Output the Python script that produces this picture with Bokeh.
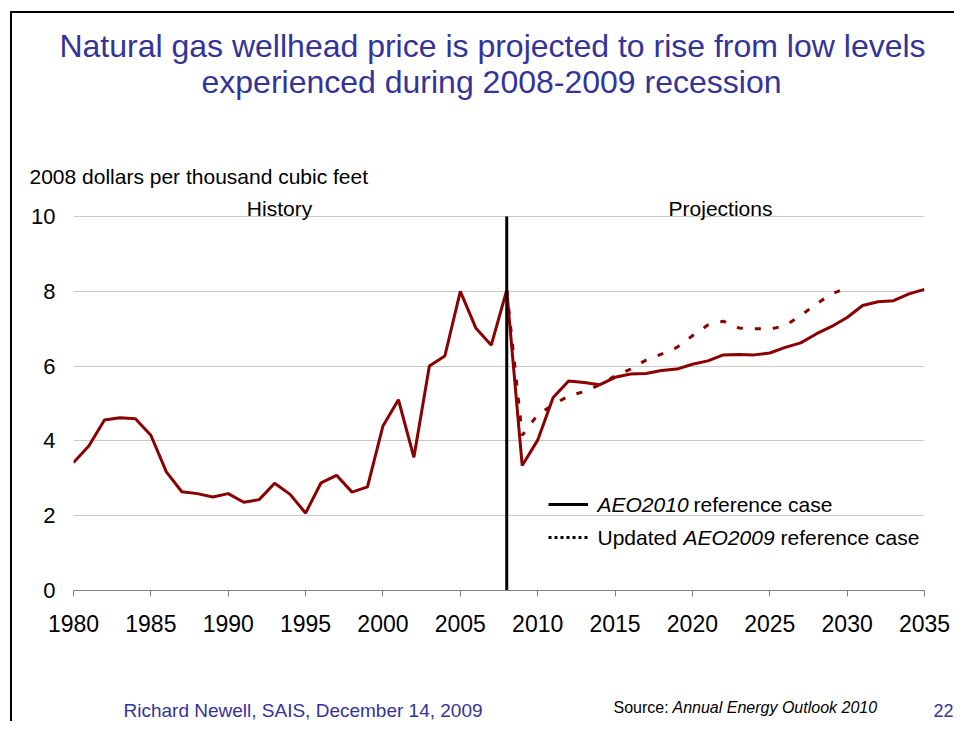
from bokeh.plotting import figure
from bokeh.layouts import column
from bokeh.models import Range1d, Label, Legend, LegendItem, FixedTicker
from bokeh.embed import file_html
from bokeh.resources import INLINE

# ---------------- data ----------------
hist_years = list(range(1980, 2009))
hist_price = [3.42, 3.87, 4.56, 4.62, 4.59, 4.15, 3.17, 2.64, 2.59, 2.50,
              2.59, 2.36, 2.43, 2.87, 2.57, 2.07, 2.88, 3.08, 2.63, 2.77,
              4.40, 5.10, 3.56, 6.00, 6.27, 8.00, 7.02, 6.56, 8.03]

aeo2010_years = list(range(2008, 2036))
aeo2010_price = [8.03, 3.34, 4.02, 5.16, 5.60, 5.56, 5.50, 5.70, 5.79, 5.80,
                 5.88, 5.92, 6.05, 6.14, 6.30, 6.31, 6.30, 6.35, 6.50, 6.62,
                 6.86, 7.06, 7.30, 7.62, 7.72, 7.75, 7.93, 8.05]

aeo2009_years = list(range(2008, 2031))
aeo2009_price = [8.03, 4.15, 4.70, 4.97, 5.20, 5.32, 5.50, 5.74, 5.92, 6.16,
                 6.32, 6.50, 6.81, 7.10, 7.20, 7.02, 7.00, 6.99, 7.08, 7.35,
                 7.66, 7.93, 8.10]

x_ticks = list(range(1980, 2036, 5))
y_ticks = [0, 2, 4, 6, 8, 10]
divider_year = 2008

# ---------------- layout / styling ----------------
FONT = "Liberation Sans"
RED = "#8B0000"
NAVY = "#333399"

W = 954
TOP_H = 196            # header figure: 0..196
MAIN_BOTTOM = 650      # main figure: 196..650
TOTAL_H = 721          # footer figure: 650..721
FR_L, FR_R, FR_T, FR_B = 73, 924, 196, 590   # main frame (page px)
Y10_PX = 216           # page px of value 10


def blank_fig(h):
    f = figure(width=W, height=h, output_backend="svg", toolbar_location=None,
               x_axis_type=None, y_axis_type=None, frame_align=False,
               min_border_left=0, min_border_right=0, min_border_top=0, min_border_bottom=0)
    f.outline_line_color = None
    f.border_fill_color = None
    f.background_fill_color = None
    return f


def add_label(f, text, x, y, size, color="black", align="left", style="normal"):
    f.add_layout(Label(x=x, y=y, x_units="screen", y_units="screen", text=text,
                       text_font=FONT, text_font_size=size, text_color=color,
                       text_align=align, text_baseline="middle", text_font_style=style))


# ---- header ----
top = blank_fig(TOP_H)


def top_lab(text, rx, ry, size, color="black", align="left", style="normal"):
    add_label(top, text, rx, TOP_H - ry, size, color, align, style)


top_lab("Natural gas wellhead price is projected to rise from low levels", 492, 45, "32px", NAVY, "center")
top_lab("experienced during 2008-2009 recession", 491, 81, "32px", NAVY, "center")
top_lab("2008 dollars per thousand cubic feet", 29, 176, "21px")

# ---- main chart ----
y_end = 10 * (FR_B - FR_T) / (FR_B - Y10_PX)
p = figure(width=W, height=MAIN_BOTTOM - TOP_H, output_backend="svg", toolbar_location=None,
           x_range=Range1d(1980, 2035), y_range=Range1d(0, y_end), frame_align=False,
           min_border_left=FR_L, min_border_right=W - FR_R,
           min_border_top=FR_T - TOP_H, min_border_bottom=MAIN_BOTTOM - FR_B)
p.outline_line_color = None
p.background_fill_color = None
p.border_fill_color = None

p.xgrid.visible = False
p.ygrid.ticker = FixedTicker(ticks=y_ticks)
p.ygrid.grid_line_color = "#c8c8c8"
p.ygrid.grid_line_width = 1

p.xaxis.ticker = FixedTicker(ticks=x_ticks)
p.yaxis.ticker = FixedTicker(ticks=y_ticks)
p.xaxis.axis_line_color = "#808080"
p.xaxis.major_tick_line_color = "#808080"
p.xaxis.major_tick_out = 6
p.xaxis.major_tick_in = 0
p.xaxis.minor_tick_line_color = None
p.xaxis.major_label_standoff = 18
p.xaxis.major_label_text_font = FONT
p.xaxis.major_label_text_font_size = "23px"
p.xaxis.major_label_text_color = "black"

p.yaxis.axis_line_color = None
p.yaxis.major_tick_line_color = None
p.yaxis.major_tick_out = 0
p.yaxis.major_tick_in = 0
p.yaxis.minor_tick_line_color = None
p.yaxis.major_label_standoff = 18
p.yaxis.major_label_text_font = FONT
p.yaxis.major_label_text_font_size = "22px"
p.yaxis.major_label_text_color = "black"

# series
p.line(hist_years, hist_price, line_color=RED, line_width=3)
p.line(aeo2010_years, aeo2010_price, line_color=RED, line_width=3)
p.line(aeo2009_years, aeo2009_price, line_color=RED, line_width=3, line_dash="6 12")

# history / projections divider
p.segment(x0=[divider_year], y0=[y_ticks[0]], x1=[divider_year], y1=[y_ticks[-1]],
          line_color="black", line_width=3)

# legend with black samples (no visible data of their own)
nan = float("nan")
r_solid = p.line([2010, 2011], [nan, nan], line_color="black", line_width=3)
r_dot = p.line([2010, 2011], [nan, nan], line_color="black", line_width=3, line_dash="3 3")
LEG_MARGIN = 43
legend = Legend(items=[LegendItem(label=" ", renderers=[r_solid]),
                       LegendItem(label=" ", renderers=[r_dot])],
                location="bottom_right", orientation="vertical",
                glyph_width=40, glyph_height=20, label_height=20,
                label_width=(FR_R - LEG_MARGIN) - 548 - 40, label_standoff=0,
                label_text_font_size="10px", spacing=13, padding=0, margin=LEG_MARGIN,
                border_line_color=None, background_fill_alpha=0)
p.add_layout(legend)


def main_lab(text, rx, ry, size, color="black", align="left", style="normal"):
    add_label(p, text, rx - FR_L, FR_B - ry, size, color, align, style)


main_lab("History", 279, 208, "21px", align="center")
main_lab("Projections", 720, 208, "21px", align="center")
main_lab("AEO2010", 597, 504, "21px", style="italic")
main_lab("reference case", 693, 504, "21px")
main_lab("Updated", 597, 537, "21px")
main_lab("AEO2009", 683, 537, "21px", style="italic")
main_lab("reference case", 780, 537, "21px")

# ---- footer ----
bot = blank_fig(TOTAL_H - MAIN_BOTTOM)


def bot_lab(text, rx, ry, size, color="black", align="left", style="normal"):
    add_label(bot, text, rx, TOTAL_H - ry, size, color, align, style)


bot_lab("Richard Newell, SAIS, December 14, 2009", 123, 710, "19px", NAVY)
bot_lab("Source:", 613, 707, "16px")
bot_lab("Annual Energy Outlook 2010", 672, 707, "16px", style="italic")
bot_lab("22", 953, 710, "18px", NAVY, align="right")

layout = column(top, p, bot, spacing=0)
layout.styles = {
    "background-color": "white",
    "background-image": "linear-gradient(#000, #000), linear-gradient(#000, #000)",
    "background-size": "944px 2px, 2px 710px",
    "background-position": "10px 11px, 10px 11px",
    "background-repeat": "no-repeat",
}

open("out.html", "w").write(file_html(layout, INLINE))
